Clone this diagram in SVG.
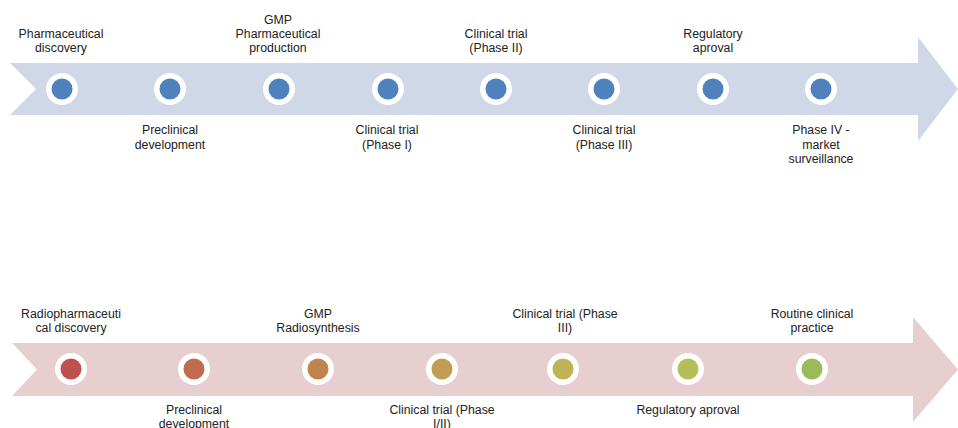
<svg xmlns="http://www.w3.org/2000/svg" width="958" height="428" viewBox="0 0 958 428">
<style>
text{font-family:"Liberation Sans",Arial,sans-serif;font-size:12.3px;fill:#222;text-anchor:middle}
.ring{fill:#fff}
.b{fill:#4F81BD}
</style>
<rect width="958" height="428" fill="#fff"/>
<g id="arrows">
<polygon id="arrow-top" points="10,63 918,63 918,37 958,89 918,141 918,115 10,115 36,89" fill="#D0D8E8"/>
<polygon id="arrow-bottom" points="12,343 913,343 913,317 958,369.5 913,422 913,396 12,396 37,369.5" fill="#E7CFD0"/>
</g>
<g id="top-nodes">
<g id="t1"><circle class="ring" cx="62" cy="89" r="16"/><circle class="b" cx="62" cy="89" r="10.5"/><text x="61" y="38">Pharmaceutical</text><text x="61" y="52">discovery</text></g>
<g id="t2"><circle class="ring" cx="170" cy="89" r="16"/><circle class="b" cx="170" cy="89" r="10.5"/><text x="170" y="134">Preclinical</text><text x="170" y="149">development</text></g>
<g id="t3"><circle class="ring" cx="279" cy="89" r="16"/><circle class="b" cx="279" cy="89" r="10.5"/><text x="278" y="24">GMP</text><text x="278" y="38">Pharmaceutical</text><text x="278" y="52">production</text></g>
<g id="t4"><circle class="ring" cx="388" cy="89" r="16"/><circle class="b" cx="388" cy="89" r="10.5"/><text x="387" y="134">Clinical trial</text><text x="387" y="149">(Phase I)</text></g>
<g id="t5"><circle class="ring" cx="496" cy="89" r="16"/><circle class="b" cx="496" cy="89" r="10.5"/><text x="496" y="38">Clinical trial</text><text x="496" y="52">(Phase II)</text></g>
<g id="t6"><circle class="ring" cx="604" cy="89" r="16"/><circle class="b" cx="604" cy="89" r="10.5"/><text x="604" y="134">Clinical trial</text><text x="604" y="149">(Phase III)</text></g>
<g id="t7"><circle class="ring" cx="713" cy="89" r="16"/><circle class="b" cx="713" cy="89" r="10.5"/><text x="713" y="38">Regulatory</text><text x="713" y="52">aproval</text></g>
<g id="t8"><circle class="ring" cx="821" cy="89" r="16"/><circle class="b" cx="821" cy="89" r="10.5"/><text x="821" y="134">Phase IV -</text><text x="821" y="149">market</text><text x="821" y="163">surveillance</text></g>
</g>
<g id="bottom-nodes">
<g id="b1"><circle class="ring" cx="71" cy="369" r="16"/><circle cx="71" cy="369" r="10.5" fill="#C0504D"/><text x="71" y="318">Radiopharmaceuti</text><text x="71" y="332">cal discovery</text></g>
<g id="b2"><circle class="ring" cx="194" cy="369" r="16"/><circle cx="194" cy="369" r="10.5" fill="#C06A4E"/><text x="194" y="414">Preclinical</text><text x="194" y="428">development</text></g>
<g id="b3"><circle class="ring" cx="318" cy="369" r="16"/><circle cx="318" cy="369" r="10.5" fill="#C0844F"/><text x="318" y="318">GMP</text><text x="318" y="332">Radiosynthesis</text></g>
<g id="b4"><circle class="ring" cx="442" cy="369" r="16"/><circle cx="442" cy="369" r="10.5" fill="#C09D53"/><text x="442" y="414">Clinical trial (Phase</text><text x="442" y="428">I/II)</text></g>
<g id="b5"><circle class="ring" cx="563" cy="369" r="16"/><circle cx="563" cy="369" r="10.5" fill="#C0B257"/><text x="565" y="318">Clinical trial (Phase</text><text x="565" y="332">III)</text></g>
<g id="b6"><circle class="ring" cx="688" cy="369" r="16"/><circle cx="688" cy="369" r="10.5" fill="#B5BF59"/><text x="688" y="414">Regulatory aproval</text></g>
<g id="b7"><circle class="ring" cx="812" cy="369" r="16"/><circle cx="812" cy="369" r="10.5" fill="#9BBB59"/><text x="812" y="318">Routine clinical</text><text x="812" y="332">practice</text></g>
</g>
</svg>
